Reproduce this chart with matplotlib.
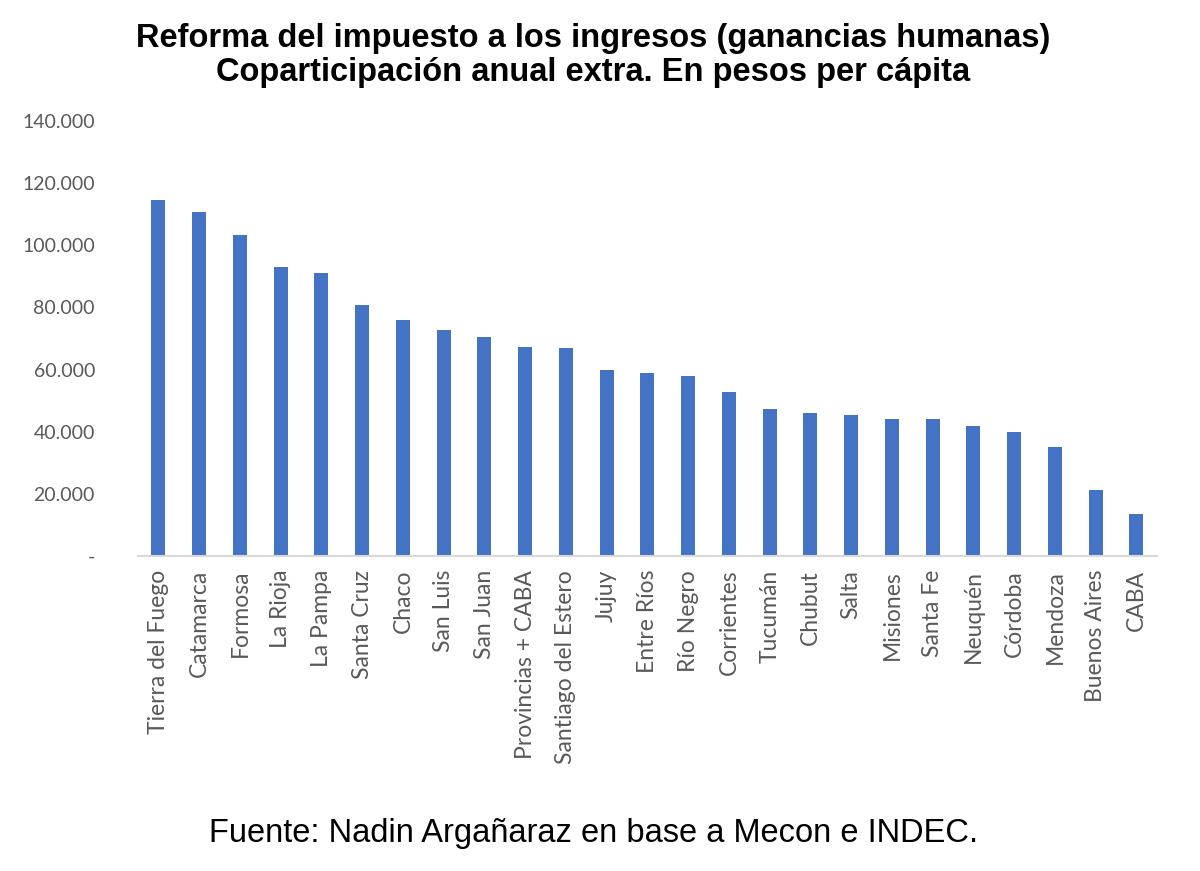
import matplotlib.pyplot as plt
import numpy as np

provincias = ['Tierra del Fuego', 'Catamarca', 'Formosa', 'La Rioja', 'La Pampa',
              'Santa Cruz', 'Chaco', 'San Luis', 'San Juan', 'Provincias + CABA',
              'Santiago del Estero', 'Jujuy', 'Entre Ríos', 'Río Negro', 'Corrientes',
              'Tucumán', 'Chubut', 'Salta', 'Misiones', 'Santa Fe', 'Neuquén',
              'Córdoba', 'Mendoza', 'Buenos Aires', 'CABA']
valores = [114500, 110600, 103200, 93000, 91200,
           80800, 76100, 72700, 70400, 67400,
           67000, 60000, 58800, 58000, 52700,
           47200, 46000, 45400, 44100, 44100, 41900,
           39900, 35000, 21200, 13500]
y_ticks = [0, 20000, 40000, 60000, 80000, 100000, 120000, 140000]

azul = '#4472c4'
gris = '#595959'

fig = plt.figure(figsize=(12, 8.71), dpi=100)
ax = fig.add_axes([0.115, 0.3617, 0.964 - 0.115, 0.861 - 0.3617])

x = np.arange(len(provincias))
ax.bar(x, valores, width=0.34, color=azul, zorder=2)

ax.set_xlim(-0.5, len(provincias) - 0.5)
ax.set_ylim(0, 140000)

# formato de miles con punto, el cero como guion
def fmt(v):
    if v == 0:
        return '-'
    return '{:,.0f}'.format(v).replace(',', '.')

ax.set_yticks(y_ticks)
ax.set_yticklabels([fmt(v) for v in y_ticks])
ax.set_xticks(x)
ax.set_xticklabels(provincias, rotation=90)

for lab in ax.get_yticklabels():
    lab.set_family('Lato')
    lab.set_fontsize(14)
    lab.set_color(gris)
for lab in ax.get_xticklabels():
    lab.set_family('Lato')
    lab.set_fontsize(16.5)
    lab.set_color(gris)

ax.tick_params(axis='y', length=0, pad=31)
ax.tick_params(axis='x', length=0, pad=10)

for s in ['top', 'right', 'left']:
    ax.spines[s].set_visible(False)
ax.spines['bottom'].set_color('#d9d9d9')
ax.spines['bottom'].set_linewidth(1.5)

fig.text(0.494, 0.974, 'Reforma del impuesto a los ingresos (ganancias humanas)\nCoparticipación anual extra. En pesos per cápita',
         ha='center', va='top', fontsize=23.5, fontweight='bold', family='Liberation Sans',
         linespacing=1.12)
fig.text(0.495, 0.043, 'Fuente: Nadin Argañaraz en base a Mecon e INDEC.',
         ha='center', va='center', fontsize=23.5, family='Liberation Sans')

fig.savefig('out.png', dpi=100)
